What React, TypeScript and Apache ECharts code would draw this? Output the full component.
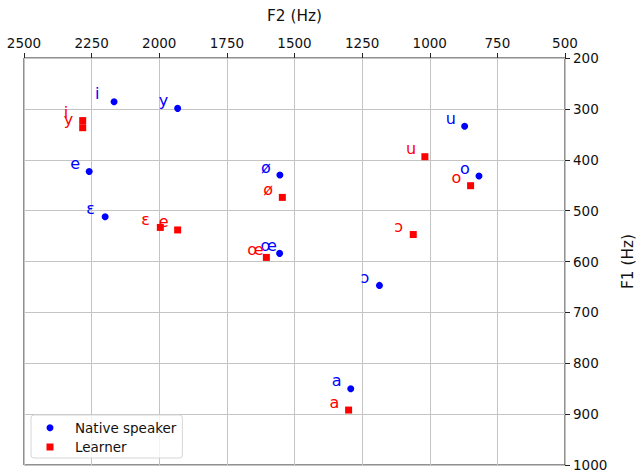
import React, { useEffect, useRef } from "react";
import * as echarts from "echarts";

const nativeVowels = ["i", "y", "e", "ɛ", "ø", "œ", "ɔ", "u", "o", "a"];
const nativeF2 = [2167, 1932, 2259, 2200, 1554, 1555, 1186, 871, 818, 1292];
const nativeF1 = [286, 299, 423, 512, 430, 584, 647, 334, 432, 850];

const learnerVowels = ["i", "y", "e", "ɛ", "ø", "œ", "ɔ", "u", "o", "a"];
const learnerF2 = [2283, 2283, 1932, 1996, 1545, 1604, 1061, 1018, 849, 1300];
const learnerF1 = [323, 337, 538, 533, 474, 592, 547, 394, 451, 892];

const seriesNames = ["Native speaker", "Learner"];
const F2_MIN = 500, F2_MAX = 2500, F2_STEP = 250;
const F1_MIN = 200, F1_MAX = 1000, F1_STEP = 100;

const FONT = "DejaVu Sans";

function build(v: string[], x: number[], y: number[]) {
  return v.map((name, i) => [x[i], y[i], name]);
}

export default function App() {
  const ref = useRef<HTMLDivElement>(null);
  useEffect(() => {
    if (!ref.current) return;
    document.body.style.margin = "0";
    const chart = echarts.init(ref.current, undefined, {
      renderer: "svg",
      width: 639,
      height: 475,
    });
    const label = (color: string) => ({
      show: true,
      position: "inside" as const,
      offset: [-19, -8],
      align: "left" as const,
      verticalAlign: "middle" as const,
      formatter: (p: any) => p.data[2],
      color,
      fontSize: 16,
      fontFamily: FONT,
    });
    chart.setOption({
      animation: false,
      textStyle: { fontFamily: FONT },
      grid: {
        left: 24,
        right: 74,
        top: 58,
        bottom: 10,
        outerBoundsMode: "none",
        containLabel: false,
        show: true,
        borderColor: "#222",
        borderWidth: 1,
        backgroundColor: "transparent",
      },
      legend: {
        orient: "vertical",
        left: 31,
        top: 415,
        data: [
          { name: seriesNames[0], icon: "circle" },
          { name: seriesNames[1], icon: "rect" },
        ],
        itemWidth: 7,
        itemHeight: 7,
        itemGap: 3.3,
        padding: [4.7, 6, 3, 15.5],
        backgroundColor: "rgba(255,255,255,0.8)",
        borderColor: "#d6d6d6",
        borderWidth: 1,
        borderRadius: 3,
        textStyle: {
          fontSize: 13.5,
          color: "#111",
          fontFamily: FONT,
          lineHeight: 16,
          padding: [0, 0, 0, 16.5],
        },
      },
      xAxis: {
        type: "value",
        position: "top",
        inverse: true,
        min: F2_MIN,
        max: F2_MAX,
        interval: F2_STEP,
        name: "F2 (Hz)",
        nameLocation: "middle",
        nameGap: 35,
        nameTextStyle: { fontSize: 15.3, color: "#111", fontFamily: FONT },
        axisLine: { show: false },
        axisTick: { show: true, length: 5, inside: false, lineStyle: { color: "#222" } },
        axisLabel: {
          margin: 8,
          fontSize: 13.5,
          color: "#111",
          fontFamily: FONT,
          formatter: (v: number) => String(v),
        },
        splitLine: { show: true, lineStyle: { color: "#c4c4c4", width: 1 } },
      },
      yAxis: {
        type: "value",
        position: "right",
        inverse: true,
        min: F1_MIN,
        max: F1_MAX,
        interval: F1_STEP,
        name: "F1 (Hz)",
        nameLocation: "middle",
        nameRotate: 90,
        nameGap: 55,
        nameTextStyle: { fontSize: 15.3, color: "#111", fontFamily: FONT },
        axisLine: { show: false },
        axisTick: { show: true, length: 5, inside: false, lineStyle: { color: "#222" } },
        axisLabel: {
          margin: 8,
          fontSize: 13.5,
          color: "#111",
          fontFamily: FONT,
          formatter: (v: number) => String(v),
        },
        splitLine: { show: true, lineStyle: { color: "#c4c4c4", width: 1 } },
      },
      series: [
        {
          name: seriesNames[0],
          type: "scatter",
          symbol: "circle",
          symbolSize: 7,
          itemStyle: { color: "#0000ff", opacity: 1 },
          data: build(nativeVowels, nativeF2, nativeF1),
          label: label("#0000ff"),
          emphasis: { disabled: true },
        },
        {
          name: seriesNames[1],
          type: "scatter",
          symbol: "rect",
          symbolSize: 7,
          itemStyle: { color: "#ff0000", opacity: 1 },
          data: build(learnerVowels, learnerF2, learnerF1),
          label: label("#ff0000"),
          emphasis: { disabled: true },
        },
      ],
    });
    return () => chart.dispose();
  }, []);
  return (
    <div
      ref={ref}
      style={{ position: "fixed", left: 0, top: 0, width: 639, height: 475, background: "#fff" }}
    />
  );
}
